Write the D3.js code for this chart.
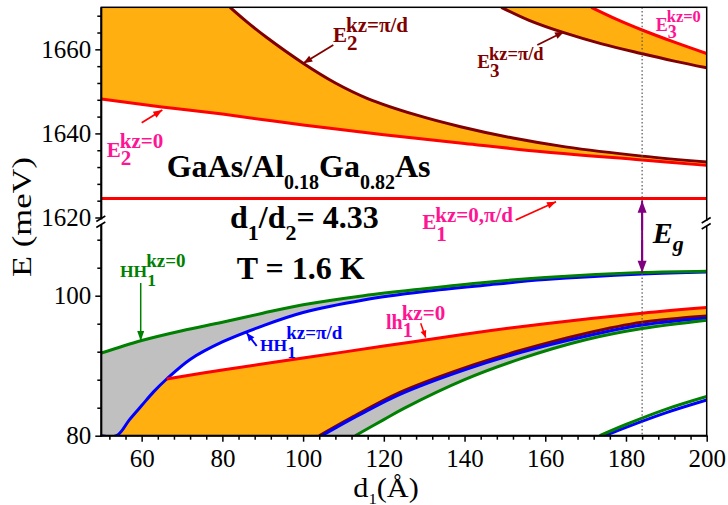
<!DOCTYPE html>
<html><head><meta charset="utf-8">
<script src="https://cdn.jsdelivr.net/npm/d3@7"></script>
<style>body{margin:0;background:#fff} svg{display:block} text{font-family:"Liberation Serif","Times New Roman",serif}</style>
</head><body><svg id="c" width="728" height="505"></svg>
<script>
// ---------------- data ----------------
// conduction band (upper segment, meV)
const dE1   = [50, 100, 150, 200];
const E1    = [1624.5, 1624.5, 1624.5, 1624.5];
const dE2k0 = [50, 65, 80, 100, 120, 140, 160, 184, 200];
const E2k0  = [1648.2, 1646.3, 1644.6, 1642.0, 1639.7, 1637.6, 1635.6, 1633.7, 1632.4];
const dE2kp = [81.9, 86, 91, 100, 108, 116, 128, 139, 152, 165, 184, 200];
const E2kp  = [1670, 1666.6, 1662.8, 1656.7, 1652.0, 1648.3, 1644.4, 1641.6, 1638.9, 1636.8, 1634.6, 1633.2];
const dE3kp = [149.1, 156, 164.8, 174, 183.8, 192, 200];
const E3kp  = [1670, 1666.9, 1663.9, 1661.3, 1659.0, 1657.2, 1655.6];
const dE3k0 = [171.4, 178, 184, 192, 200];
const E3k0  = [1670, 1667.0, 1664.6, 1661.7, 1659.0];
// valence band (lower segment, meV)
const dHH1k0 = [50, 60, 70, 80, 90, 100, 115, 130, 145, 160, 184, 200];
const HH1k0  = [91.8, 93.6, 95.0, 96.2, 97.5, 98.7, 100.0, 101.0, 101.9, 102.6, 103.3, 103.5];
const dHH1kp = [50, 53.8, 57, 60, 63, 66.2, 72, 80, 90, 100, 115, 130, 145, 160, 184, 200];
const HH1kp  = [80, 80, 82.3, 84.3, 86.3, 88.1, 90.9, 93.4, 95.7, 97.6, 99.4, 100.6, 101.5, 102.3, 103.1, 103.4];
const dLh1k0 = [66.2, 80, 100, 120, 140, 160, 184, 200];
const Lh1k0  = [88.1, 89.4, 91.1, 92.8, 94.5, 96.0, 97.5, 98.3];
const dLh1kp = [104, 112, 124, 140, 154, 170, 184, 200];
const Lh1kp  = [80.0, 82.6, 86.2, 89.7, 92.2, 94.6, 96.2, 97.1];
const dHH2b  = [104.6, 111.7, 115, 124, 140, 154, 170, 184, 200];
const HH2b   = [80, 82.3, 83.3, 85.9, 89.4, 91.9, 94.2, 95.8, 96.8];
const dHH2g  = [112.9, 120, 125, 140, 154, 170, 184, 200];
const HH2g   = [80, 82.3, 83.9, 88.0, 91.0, 93.7, 95.3, 96.5];
const dHH3g  = [173.5, 180, 190, 200];
const HH3g   = [80, 81.6, 83.8, 85.6];
const dHH3b  = [174.7, 180, 190, 200];
const HH3b   = [80, 81.2, 83.3, 85.1];
const dGap   = 184;
// ticks
const xTicks      = [60, 80, 100, 120, 140, 160, 180, 200];
const yTicksUpper = [1620, 1640, 1660];
const yTicksLower = [80, 100];

// ---------------- layout ----------------
const L = 101.3, R = 706.7, T = 7.3, B = 435.7, brkU = 217.5, brkL = 218.7;
const FONT = '"Liberation Serif","Times New Roman",serif';
const ORANGE = '#FFB010', GREY = '#C0C0C0', RED = '#FF0000', WINE = '#800000',
      GREEN = '#008000', BLUE = '#0000FF', PINK = '#FF1493', PURPLE = '#800080';

const x  = d3.scaleLinear().domain([50, 200]).range([L, R]);
const yU = d3.scaleLinear().domain([1620, 1670]).range([brkU, T]);
const yL = d3.scaleLinear().domain([80, 111]).range([B, brkL]);

const svg = d3.select('#c');
const defs = svg.append('defs');
defs.append('clipPath').attr('id', 'clipU').append('rect')
  .attr('x', L).attr('y', T).attr('width', R - L).attr('height', brkU - T);
defs.append('clipPath').attr('id', 'clipL').append('rect')
  .attr('x', L).attr('y', brkL).attr('width', R - L).attr('height', B - brkL);

const zip = (ds, es) => ds.map((d, i) => [d, es[i]]);
const curve = d3.curveCatmullRom.alpha(0.5);
const lnU = d3.line().x(p => x(p[0])).y(p => yU(p[1])).curve(curve);
const lnL = d3.line().x(p => x(p[0])).y(p => yL(p[1])).curve(curve);
const cont = s => s.replace(/^M/, 'L');
const rev = a => a.slice().reverse();

const gU = svg.append('g').attr('clip-path', 'url(#clipU)');
const gL = svg.append('g').attr('clip-path', 'url(#clipL)');

// upper fills
const pE1 = zip(dE1, E1), pE2k0 = zip(dE2k0, E2k0), pE2kp = zip(dE2kp, E2kp),
      pE3k0 = zip(dE3k0, E3k0), pE3kp = zip(dE3kp, E3kp);
const topE = yU.domain()[1];
gU.append('path').attr('fill', ORANGE)
  .attr('d', lnU(pE2k0) + cont(lnU(rev(pE2kp))) + `L${x(dE2k0[0])},${yU(topE)}Z`);
gU.append('path').attr('fill', ORANGE)
  .attr('d', lnU(pE3kp) + cont(lnU(rev(pE3k0))) + 'Z');

// lower fills
const pHH1k0 = zip(dHH1k0, HH1k0), pHH1kp = zip(dHH1kp, HH1kp),
      pLh1k0 = zip(dLh1k0, Lh1k0), pLh1kp = zip(dLh1kp, Lh1kp),
      pHH2b = zip(dHH2b, HH2b), pHH2g = zip(dHH2g, HH2g),
      pHH3g = zip(dHH3g, HH3g), pHH3b = zip(dHH3b, HH3b);
gL.append('path').attr('fill', GREY)
  .attr('d', lnL(pHH1k0) + cont(lnL(rev(pHH1kp))) + 'Z');
const hhEdge = pHH1kp.filter(p => p[0] >= dHH1kp[1] && p[0] <= dLh1k0[0]);
gL.append('path').attr('fill', ORANGE)
  .attr('d', lnL(hhEdge) + cont(lnL(pLh1k0)) + cont(lnL(rev(pLh1kp))) + 'Z');
gL.append('path').attr('fill', GREY)
  .attr('d', lnL(pHH2b) + cont(lnL(rev(pHH2g))) + 'Z');

// curves
function curveU(p, c) { gU.append('path').attr('d', lnU(p)).attr('fill', 'none').attr('stroke', c).attr('stroke-width', 3); }
function curveL(p, c) { gL.append('path').attr('d', lnL(p)).attr('fill', 'none').attr('stroke', c).attr('stroke-width', 3); }
curveU(pE2k0, RED); curveU(pE2kp, WINE); curveU(pE3kp, WINE); curveU(pE3k0, RED); curveU(pE1, RED);
curveL(pHH1kp, BLUE); curveL(pHH1k0, GREEN); curveL(pLh1k0, RED); curveL(pLh1kp, WINE);
curveL(pHH2b, BLUE); curveL(pHH2g, GREEN); curveL(pHH3b, BLUE); curveL(pHH3g, GREEN);

// dotted vertical line
svg.append('line').attr('x1', x(dGap)).attr('x2', x(dGap)).attr('y1', T).attr('y2', B)
  .attr('stroke', '#555').attr('stroke-width', 1.2).attr('stroke-dasharray', '1.5,2.2');

// ---------------- axes ----------------
function styleAxis(g) {
  g.select('.domain').remove();
  g.attr('font-size', 25).attr('font-family', FONT);
  g.selectAll('line').attr('stroke', '#000').attr('stroke-width', 1.5);
  g.selectAll('text').attr('fill', '#000');
}
const minorX = d3.range(52, 200.01, 4).filter(v => !xTicks.includes(v));
const minorU = d3.range(1624, 1670, 4).filter(v => !yTicksUpper.includes(v));
const minorL = d3.range(84, 111, 4).filter(v => !yTicksLower.includes(v));
svg.append('g').attr('transform', `translate(0,${B})`)
  .call(d3.axisBottom(x).tickValues(xTicks).tickSize(6).tickSizeOuter(0).tickPadding(8).tickFormat(d3.format('d'))).call(styleAxis);
svg.append('g').attr('transform', `translate(0,${B})`)
  .call(d3.axisBottom(x).tickValues(minorX).tickSize(4).tickSizeOuter(0).tickFormat('')).call(styleAxis);
svg.append('g').attr('transform', `translate(${L},0)`)
  .call(d3.axisLeft(yU).tickValues(yTicksUpper).tickSize(6).tickSizeOuter(0).tickPadding(4).tickFormat(d3.format('d'))).call(styleAxis);
svg.append('g').attr('transform', `translate(${L},0)`)
  .call(d3.axisLeft(yU).tickValues(minorU).tickSize(4).tickSizeOuter(0).tickFormat('')).call(styleAxis);
svg.append('g').attr('transform', `translate(${L},0)`)
  .call(d3.axisLeft(yL).tickValues(yTicksLower).tickSize(6).tickSizeOuter(0).tickPadding(4).tickFormat(d3.format('d'))).call(styleAxis);
svg.append('g').attr('transform', `translate(${L},0)`)
  .call(d3.axisLeft(yL).tickValues(minorL).tickSize(4).tickSizeOuter(0).tickFormat('')).call(styleAxis);

// frame
svg.append('rect').attr('x', L).attr('y', T).attr('width', R - L).attr('height', B - T)
  .attr('fill', 'none').attr('stroke', '#000').attr('stroke-width', 1.5);
svg.append('line').attr('x1', L).attr('x2', L).attr('y1', T).attr('y2', B + 1).attr('stroke', '#000').attr('stroke-width', 2);
svg.append('line').attr('x1', L - 1).attr('x2', R + 0.75).attr('y1', B).attr('y2', B).attr('stroke', '#000').attr('stroke-width', 2);

// axis breaks
function brk(xc, yc) {
  svg.append('rect').attr('x', xc - 2.5).attr('y', yc - 2.5).attr('width', 5).attr('height', 5).attr('fill', '#fff');
  svg.append('line').attr('x1', xc - 5).attr('y1', yc - 0.5).attr('x2', xc + 4).attr('y2', yc - 6)
    .attr('stroke', '#000').attr('stroke-width', 1.5);
  svg.append('line').attr('x1', xc - 5).attr('y1', yc + 5.5).attr('x2', xc + 4).attr('y2', yc)
    .attr('stroke', '#000').attr('stroke-width', 1.5);
}
brk(L, 222);
brk(R, 223.5);

// axis titles
svg.append('text').attr('transform', 'translate(31,217) rotate(-90) scale(1.28,1)')
  .attr('text-anchor', 'middle').attr('font-size', 27).text('E (meV)');
const xt = svg.append('text').attr('transform', 'translate(386,496.7) scale(1.12,1)')
  .attr('text-anchor', 'middle').attr('font-size', 27);
xt.append('tspan').text('d');
xt.append('tspan').attr('font-size', 15).attr('dy', 7).text('1');
xt.append('tspan').attr('dy', -7).text('(Å)');

// ---------------- annotations ----------------
function arrow(x1, y1, x2, y2, color, lw, hl, hw) {
  svg.append('line').attr('x1', x1).attr('y1', y1).attr('x2', x2).attr('y2', y2)
    .attr('stroke', color).attr('stroke-width', lw);
  const a = Math.atan2(y2 - y1, x2 - x1);
  const bx = x2 - hl * Math.cos(a), by = y2 - hl * Math.sin(a);
  const px = -Math.sin(a) * hw, py = Math.cos(a) * hw;
  svg.append('path').attr('fill', color)
    .attr('d', `M${x2},${y2}L${bx + px},${by + py}L${bx - px},${by - py}Z`);
}
function lab(xp, yp, base, sub, sup, color, size, supSize, supDy, subDy) {
  const g = svg.append('g').attr('fill', color).attr('font-weight', 'bold');
  const t = g.append('text').attr('x', xp).attr('y', yp).attr('font-size', size).text(base);
  const w = t.node().getComputedTextLength();
  g.append('text').attr('x', xp + w).attr('y', yp + subDy).attr('font-size', size).text(sub);
  g.append('text').attr('x', xp + w - 1).attr('y', yp + supDy).attr('font-size', supSize).text(sup);
}

arrow(333.3, 45, 303.3, 63.3, WINE, 1.8, 9, 3.5);
arrow(141.7, 122.7, 162.3, 110, RED, 1.8, 9, 3.5);
arrow(537.3, 45, 564, 31.7, WINE, 1.8, 9, 3.5);
arrow(515.7, 220, 556, 201.7, RED, 1.8, 9, 3.5);
arrow(140.7, 283, 140.7, 341, GREEN, 1.5, 10, 3.5);
arrow(256.7, 346, 246.7, 333, BLUE, 2, 8, 3.5);
arrow(420.7, 323.3, 425.7, 337.5, RED, 1.5, 7, 3);

lab(333, 41.7, 'E', '2', 'kz=π/d', WINE, 21, 21, -9.5, 8.5);
lab(106.7, 156.7, 'E', '2', 'kz=0', PINK, 21, 21, -8.5, 8.5);
lab(477.3, 68.3, 'E', '3', 'kz=π/d', WINE, 19, 18.5, -8.5, 8.5);
lab(655.7, 31.2, 'E', '3', 'kz=0', PINK, 18, 16.5, -9, 6.5);
lab(422.3, 228.5, 'E', '1', 'kz=0,π/d', PINK, 21, 21, -6.5, 12);
lab(120, 277.3, 'HH', '1', 'kz=0', GREEN, 17.5, 19, -10.6, 8.7);
lab(260, 350.7, 'HH', '1', 'kz=π/d', BLUE, 17.5, 19, -11.4, 7.6);
lab(386, 329.3, 'lh', '1', 'kz=0', PINK, 20, 21, -9.3, 7.4);

// Eg double arrow
const xg = x(dGap);
svg.append('line').attr('x1', xg).attr('x2', xg).attr('y1', 210).attr('y2', 263)
  .attr('stroke', PURPLE).attr('stroke-width', 2);
arrow(xg, 230, xg, 200.7, PURPLE, 2, 12, 4.5);
arrow(xg, 240, xg, 272.7, PURPLE, 2, 12, 4.5);
const eg = svg.append('text').attr('x', 652.7).attr('y', 242.7).attr('font-size', 30)
  .attr('font-weight', 'bold').attr('font-style', 'italic');
eg.append('tspan').text('E');
eg.append('tspan').attr('font-size', 22).attr('dy', 8).text('g');

// main texts
const t1 = svg.append('text').attr('x', 166.7).attr('y', 176.7).attr('font-size', 32).attr('font-weight', 'bold');
t1.append('tspan').text('GaAs/Al');
t1.append('tspan').attr('font-size', 20).attr('dy', 12).text('0.18');
t1.append('tspan').attr('dy', -12).text('Ga');
t1.append('tspan').attr('font-size', 20).attr('dy', 12).text('0.82');
t1.append('tspan').attr('dy', -12).text('As');

const t2 = svg.append('text').attr('x', 230).attr('y', 228.3).attr('font-size', 32).attr('font-weight', 'bold');
t2.append('tspan').text('d');
t2.append('tspan').attr('font-size', 22).attr('dy', 11.5).text('1');
t2.append('tspan').attr('dy', -11.5).text('/d');
t2.append('tspan').attr('font-size', 22).attr('dy', 11.5).text('2');
t2.append('tspan').attr('dy', -11.5).text('= 4.33');

svg.append('text').attr('x', 236.7).attr('y', 279.3).attr('font-size', 32).attr('font-weight', 'bold').text('T = 1.6 K');
</script></body></html>
